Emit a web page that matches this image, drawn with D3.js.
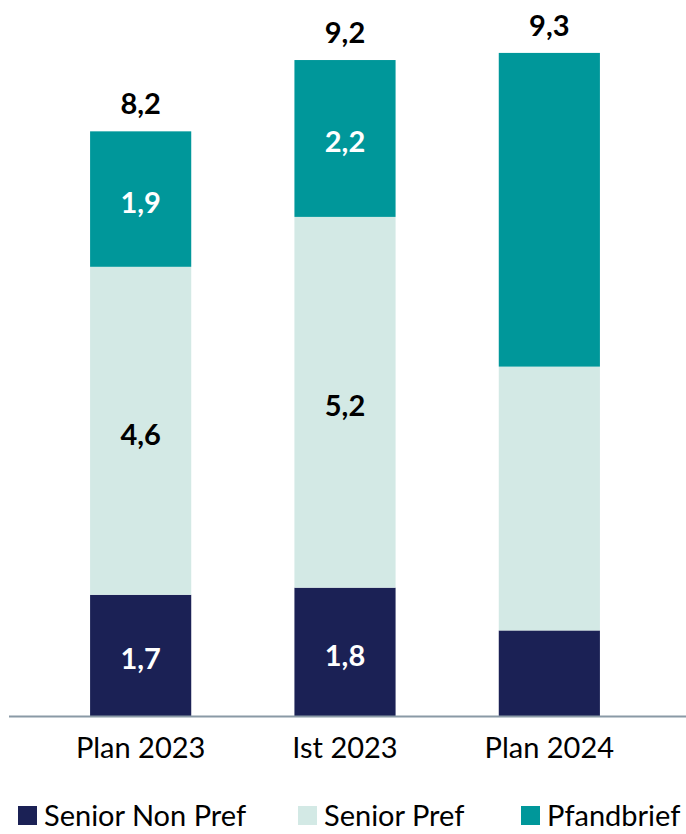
<!DOCTYPE html>
<html>
<head>
<meta charset="utf-8">
<script src="https://cdn.jsdelivr.net/npm/d3@7"></script>
<style>
  body { margin: 0; background: #fff; }
  text { font-family: Lato, "Open Sans", sans-serif; }
</style>
</head>
<body>
<div id="chart"></div>
<script>
var categories = ["Plan 2023", "Ist 2023", "Plan 2024"]
var seriesNames = ["Senior Non Pref", "Senior Pref", "Pfandbrief"]
var seniorNonPref = [1.7, 1.8, 1.2]
var seniorPref = [4.6, 5.2, 3.7]
var pfandbrief = [1.9, 2.2, 4.4]
var totals = [8.2, 9.2, 9.3]
var showSegLabels = [true, true, false]

var colors = ["#1b2155", "#d3e9e5", "#00979a"]
var labelColors = ["#ffffff", "#000000", "#ffffff"]

var width = 686,
    height = 834,
    baseY = 716

var svg = d3.select("#chart")
    .append("svg")
    .attr("width", width)
    .attr("height", height)

var rows = categories.map(function (c, i) {
    return { cat: c, s0: seniorNonPref[i], s1: seniorPref[i], s2: pfandbrief[i], i: i }
})
var stack = d3.stack().keys(["s0", "s1", "s2"])(rows)

var x = d3.scaleBand()
    .domain(categories)
    .range([39, 651])
    .paddingInner(0.505)
    .paddingOuter(0.25)

var y = d3.scaleLinear()
    .domain([0, 10])
    .range([baseY, baseY - 713])

// bars
stack.forEach(function (layer, k) {
    svg.append("g").selectAll("rect")
        .data(layer)
        .join("rect")
        .attr("x", function (d) { return x(d.data.cat) })
        .attr("y", function (d) { return y(d[1]) })
        .attr("width", x.bandwidth())
        .attr("height", function (d) { return y(d[0]) - y(d[1]) })
        .attr("fill", colors[k])

    svg.append("g").selectAll("text")
        .data(layer.filter(function (d) { return showSegLabels[d.data.i] }))
        .join("text")
        .attr("x", function (d) { return x(d.data.cat) + x.bandwidth() / 2 })
        .attr("y", function (d) { return (y(d[0]) + y(d[1])) / 2 + 14 })
        .attr("text-anchor", "middle")
        .attr("font-size", 29)
        .attr("font-weight", "bold")
        .attr("fill", labelColors[k])
        .text(function (d) { return String(d.data["s" + k]).replace(".", ",") })
})

// totals
svg.append("g").selectAll("text")
    .data(categories)
    .join("text")
    .attr("x", function (d) { return x(d) + x.bandwidth() / 2 })
    .attr("y", function (d, i) { return y(totals[i]) - 17 })
    .attr("text-anchor", "middle")
    .attr("font-size", 29)
    .attr("font-weight", "bold")
    .attr("fill", "#000")
    .text(function (d, i) { return String(totals[i]).replace(".", ",") })

// axis
var xAxis = svg.append("g")
    .attr("transform", "translate(0," + baseY + ")")
    .call(d3.axisBottom(x).tickSize(0).tickPadding(21))
xAxis.select(".domain").remove()
xAxis.selectAll("text")
    .attr("font-size", 29)
    .attr("font-family", "Lato, 'Open Sans', sans-serif")
    .attr("fill", "#000")
svg.append("line")
    .attr("x1", 9)
    .attr("x2", width)
    .attr("y1", baseY + 0.5)
    .attr("y2", baseY + 0.5)
    .attr("stroke", "#8a9aa6")
    .attr("stroke-width", 2)

// legend (kept just inside the bottom edge)
var legendX = [18, 298, 521]
var legend = svg.append("g").selectAll("g")
    .data(seriesNames)
    .join("g")
    .attr("transform", function (d, i) { return "translate(" + legendX[i] + ",806)" })
legend.append("rect")
    .attr("width", 19)
    .attr("height", 19)
    .attr("fill", function (d, i) { return colors[i] })
legend.append("text")
    .attr("x", 26)
    .attr("y", 20)
    .attr("font-size", 29)
    .attr("fill", "#000")
    .text(function (d) { return d })
</script>
</body>
</html>
